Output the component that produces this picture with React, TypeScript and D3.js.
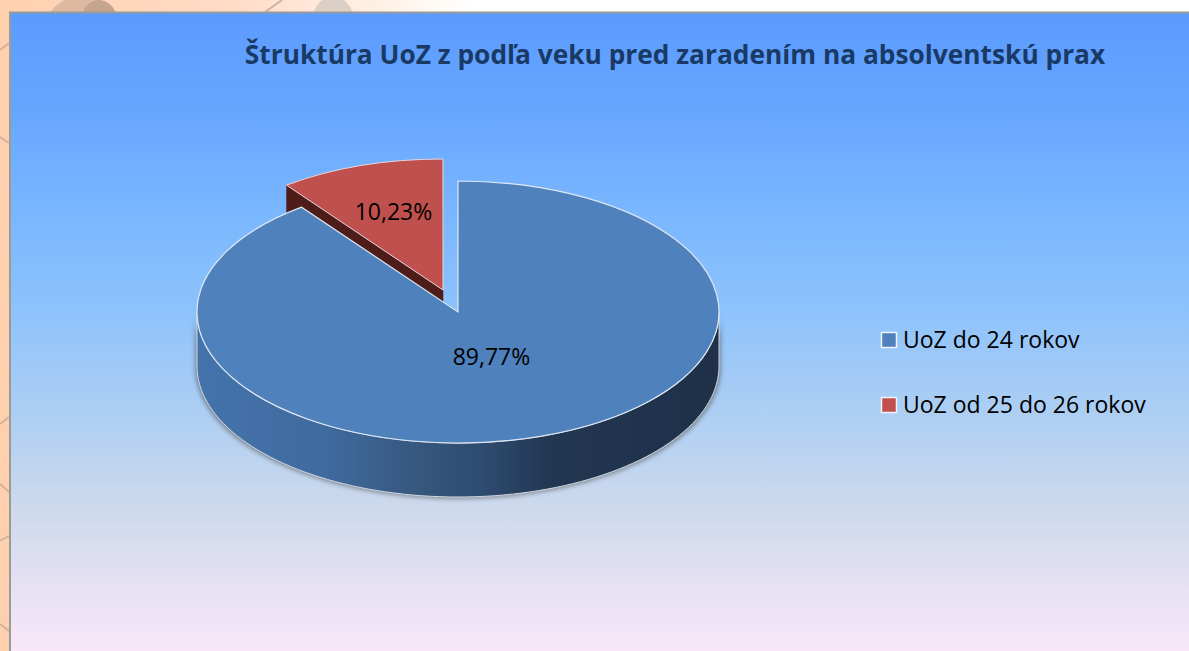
import React from "react";
import * as d3 from "d3";

const categories = ["UoZ do 24 rokov", "UoZ od 25 do 26 rokov"];
const seriesValues = [89.77, 10.23];
const valueLabels = ["89,77%", "10,23%"];
const colors = ["#4f81bd", "#c0504d"];
const titleText = "Štruktúra UoZ z podľa veku pred zaradením na absolventskú prax";

const W = 1189, H = 651;
const rx = 261, ry = 131, depth = 54;
const cx = 458, cy = 312;
const explode = { x: -15, y: -22 };
const k = ry / rx;
const pie = d3.pie<number>().sort(null).startAngle(0).endAngle(2 * Math.PI);
const arcs = pie(seriesValues);
const arcGen = d3.arc<d3.PieArcDatum<number>>().innerRadius(0).outerRadius(rx);
const FONT = "'Open Sans', Lato, sans-serif";

const px = (a: number) => Math.sin(a) * rx;
const py = (a: number) => -Math.cos(a) * ry;

function rimPath(a0: number, a1: number) {
  const n = 90;
  const angles = d3.range(n + 1).map((i) => a0 + ((a1 - a0) * i) / n);
  const top = angles.map((a) => [px(a), py(a)] as [number, number]);
  const bottom = angles.slice().reverse().map((a) => [px(a), py(a) + depth] as [number, number]);
  return d3.line()([...top, ...bottom])! + "Z";
}

const bgStops: [number, string][] = [
  [0, "#5b9bff"], [0.15, "#67a6ff"], [0.3, "#79b6ff"], [0.45, "#8cc2fc"],
  [0.62, "#aecff3"], [0.76, "#cdd9ec"], [0.88, "#e5e1f3"], [1, "#fbe9fa"],
];
const rimStops: [number, string][] = [
  [0, "#4473ac"], [0.25, "#3f6a9e"], [0.42, "#37587f"], [0.55, "#2e4b70"],
  [0.67, "#223752"], [1, "#1f3048"],
];
const edgeLines: [number, number, number, number][] = [
  [0, 50, 9, 43], [0, 137, 9, 143], [0, 424, 9, 417], [0, 484, 9, 492],
  [0, 541, 9, 536], [0, 624, 9, 631], [265, 12, 282, 0],
];

export default function App() {
  const blue = arcs[0], red = arcs[1];
  const aEnd = blue.endAngle;
  const apexWallRed = d3.line()([
    [0, 0], [px(aEnd), py(aEnd)], [px(aEnd), py(aEnd) + depth], [0, depth],
  ])! + "Z";
  const arcTransform = `scale(1,${k})`;
  const rim = rimPath(Math.PI / 2, (3 * Math.PI) / 2);
  return (
    <svg width={W} height={H} viewBox={`0 0 ${W} ${H}`}
      style={{ position: "absolute", left: 0, top: 0, display: "block" }}>
      <defs>
        <linearGradient id="bg" x1="0" y1="0" x2="0" y2="1">
          {bgStops.map(([o, c]) => <stop key={o} offset={o} stopColor={c} />)}
        </linearGradient>
        <linearGradient id="rim" gradientUnits="userSpaceOnUse" x1={-rx} x2={rx} y1="0" y2="0">
          {rimStops.map(([o, c]) => <stop key={o} offset={o} stopColor={c} />)}
        </linearGradient>
        <linearGradient id="pg" gradientUnits="userSpaceOnUse" x1="0" x2="470" y1="0" y2="0">
          <stop offset="0" stopColor="#ffd0ae" />
          <stop offset="0.5" stopColor="#ffdcc8" />
          <stop offset="0.8" stopColor="#fff0e4" />
          <stop offset="1" stopColor="#ffffff" />
        </linearGradient>
        <filter id="blur" x="-10%" y="-10%" width="120%" height="120%">
          <feGaussianBlur stdDeviation="2" />
        </filter>
        <clipPath id="topBand"><rect x={0} y={0} width={W} height={12} /></clipPath>
      </defs>

      <rect x={0} y={0} width={W} height={H} fill="#ffd0ae" />
      <rect x={0} y={0} width={W} height={12} fill="url(#pg)" />
      <g clipPath="url(#topBand)">
        <ellipse cx={82} cy={30} rx={37} ry={34} fill="#dcb9a0" />
        <ellipse cx={99} cy={24} rx={19} ry={24} fill="#c6a58e" />
        <ellipse cx={333} cy={30} rx={23} ry={34} fill="#dcd0c6" />
      </g>
      {edgeLines.map(([x1, y1, x2, y2], i) => (
        <line key={i} x1={x1} y1={y1} x2={x2} y2={y2} stroke="#d0b39e" strokeWidth={2} />
      ))}
      <rect x={10} y={12.5} width={W} height={H} fill="url(#bg)" stroke="#9a9a98" strokeWidth={2} />

      <text x={675} y={64} textAnchor="middle" fontFamily={FONT}
        fontWeight={700} fontSize={26.3} fill="#1a3a66">{titleText}</text>

      <g transform={`translate(${cx},${cy})`} filter="url(#blur)" opacity={0.55}>
        <path d={rim} fill="#555" transform="translate(0,2) scale(1.008,1)" />
      </g>
      <line x1={447.5} x2={447.5} y1={212} y2={298} stroke="#4a6f99" strokeWidth={4} opacity={0.6} filter="url(#blur)" />
      <line x1={456} x2={456} y1={235} y2={308} stroke="#4a6f99" strokeWidth={3} opacity={0.7} filter="url(#blur)" />

      <g transform={`translate(${cx + explode.x},${cy + explode.y})`}>
        <path d={apexWallRed} fill="#4e1d1a" stroke="#4e1d1a" strokeWidth={0.5} />
        <path d={arcGen(red)!} transform={arcTransform} fill={colors[1]}
          stroke="#e6d6dc" strokeWidth={1} vectorEffect="non-scaling-stroke" />
      </g>

      <g transform={`translate(${cx},${cy})`}>
        <path d={rim} fill="url(#rim)" stroke="#cfd6df" strokeWidth={1} />
        <path d={arcGen(blue)!} transform={arcTransform} fill={colors[0]}
          stroke="#dfe7f2" strokeWidth={1.2} vectorEffect="non-scaling-stroke" />
      </g>

      <text x={491.5} y={365} textAnchor="middle" fontFamily={FONT} fontSize={23} fill="#000">{valueLabels[0]}</text>
      <text x={393.5} y={220} textAnchor="middle" fontFamily={FONT} fontSize={23} fill="#000">{valueLabels[1]}</text>

      {categories.map((c, i) => {
        const y = 340 + i * 65;
        return (
          <g key={c}>
            <rect x={881.5} y={y - 7.5} width={15} height={15} fill={colors[i]} stroke="#eef3fa" strokeWidth={1.5} />
            <text x={903} y={y + 8} fontFamily={FONT} fontSize={23} fill="#000">{c}</text>
          </g>
        );
      })}
    </svg>
  );
}
